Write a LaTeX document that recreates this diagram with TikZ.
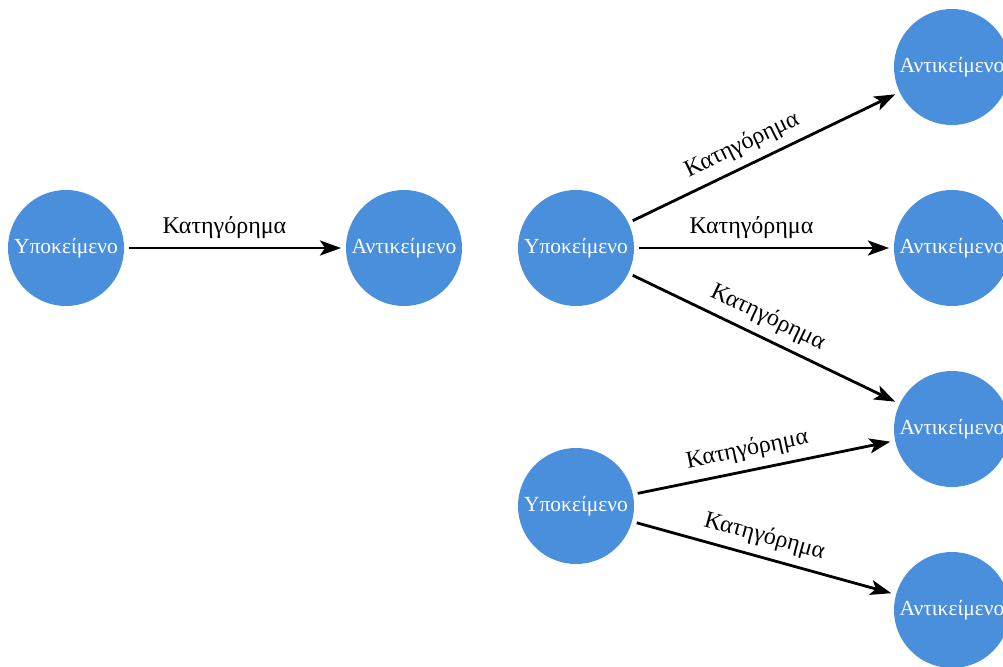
\documentclass[tikz,border=0pt]{standalone}
\usepackage{fontspec}
\setmainfont{Liberation Serif}
\usetikzlibrary{arrows.meta}
\definecolor{entblue}{HTML}{4A8FDB}
\tikzset{
  ent/.style={circle, fill=entblue, minimum size=116pt, inner sep=0pt, outer sep=5pt, text=white, font=\fontsize{21.5}{24}\selectfont},
  arr/.style={line width=2.8pt, -{Stealth[length=21pt,width=15pt,inset=5pt]}},
  lab/.style={fill=white, inner sep=1pt, font=\fontsize{24}{27}\selectfont, sloped, above=7pt}
}
\begin{document}
\begin{tikzpicture}[x=1pt,y=-1pt]
\useasboundingbox (0,0) rectangle (1003,666);
\clip (0,0) rectangle (1003,666);
\node[ent] (s1) at (66,248) {Υποκείμενο};
\node[ent] (a1) at (404,248) {Αντικείμενο};
\node[ent] (s2) at (576,248) {Υποκείμενο};
\node[ent] (s3) at (576,506) {Υποκείμενο};
\node[ent] (o1) at (952,67) {Αντικείμενο};
\node[ent] (o2) at (952,248) {Αντικείμενο};
\node[ent] (o3) at (952,429) {Αντικείμενο};
\node[ent] (o4) at (952,610) {Αντικείμενο};
\draw[arr] (s1) -- node[lab, pos=0.45] {Κατηγόρημα} (a1);
\draw[arr] (s2) -- node[lab, pos=0.45] {Κατηγόρημα} (o1);
\draw[arr] (s2) -- node[lab, pos=0.45] {Κατηγόρημα} (o2);
\draw[arr] (s2) -- node[lab, pos=0.48] {Κατηγόρημα} (o3);
\draw[arr] (s3) -- node[lab, pos=0.45] {Κατηγόρημα} (o3);
\draw[arr] (s3) -- node[lab, pos=0.48] {Κατηγόρημα} (o4);
\end{tikzpicture}
\end{document}
